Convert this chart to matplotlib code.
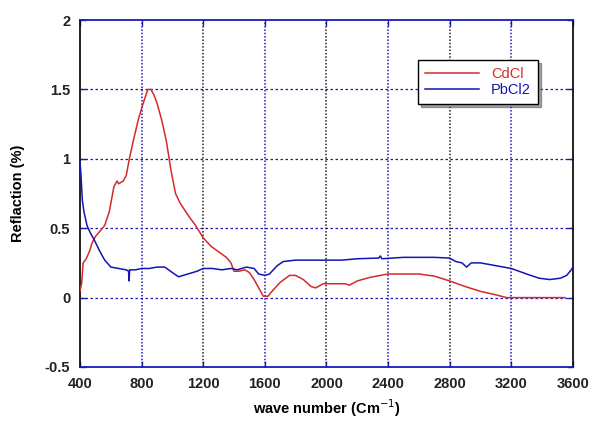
import numpy as np
import matplotlib.pyplot as plt

plt.rcParams['font.family'] = ['Liberation Sans', 'DejaVu Sans']

# CdCl spectrum
cd_x = [400, 410, 420, 440, 460, 480, 500, 530, 560, 590, 620, 640, 650, 680, 700,
        720, 750, 780, 810, 840, 860, 880, 900, 930, 960, 990, 1020, 1050, 1080,
        1110, 1150, 1200, 1250, 1300, 1350, 1380, 1400, 1430, 1470, 1500, 1530,
        1560, 1590, 1620, 1650, 1700, 1760, 1800, 1850, 1900, 1930, 1980, 2050,
        2120, 2150, 2200, 2280, 2350, 2400, 2600, 2700, 2800, 2900, 3000, 3100,
        3170, 3300, 3550]
cd_y = [0.05, 0.10, 0.25, 0.28, 0.33, 0.40, 0.44, 0.48, 0.52, 0.62, 0.80, 0.84, 0.82,
        0.84, 0.88, 1.00, 1.15, 1.29, 1.40, 1.50, 1.50, 1.46, 1.40, 1.28, 1.13, 0.92,
        0.75, 0.68, 0.63, 0.58, 0.52, 0.43, 0.37, 0.33, 0.29, 0.25, 0.19, 0.19, 0.20,
        0.18, 0.13, 0.07, 0.01, 0.01, 0.05, 0.11, 0.16, 0.16, 0.13, 0.08, 0.07, 0.10,
        0.10, 0.10, 0.09, 0.12, 0.145, 0.16, 0.17, 0.17, 0.155, 0.12, 0.08, 0.045,
        0.02, 0.0, 0.0, 0.0]

# PbCl2 spectrum
pb_x = [400, 405, 415, 425, 445, 465, 490, 530, 560, 600, 650, 700, 715, 718, 722,
        760, 800, 850, 900, 950, 1000, 1040, 1100, 1160, 1200, 1260, 1320, 1380,
        1420, 1480, 1530, 1560, 1600, 1630, 1680, 1720, 1800, 1900, 2000, 2100,
        2200, 2340, 2350, 2360, 2500, 2700, 2800, 2840, 2880, 2910, 2940, 3000,
        3100, 3200, 3300, 3380, 3450, 3520, 3560, 3590, 3600]
pb_y = [0.97, 0.90, 0.70, 0.62, 0.52, 0.47, 0.42, 0.33, 0.27, 0.22, 0.21, 0.20, 0.19,
        0.12, 0.20, 0.20, 0.21, 0.21, 0.22, 0.22, 0.18, 0.15, 0.17, 0.19, 0.21, 0.21,
        0.20, 0.21, 0.20, 0.22, 0.21, 0.17, 0.16, 0.17, 0.23, 0.26, 0.27, 0.27, 0.27,
        0.27, 0.28, 0.285, 0.30, 0.28, 0.29, 0.29, 0.285, 0.26, 0.25, 0.22, 0.25,
        0.25, 0.23, 0.21, 0.17, 0.14, 0.13, 0.14, 0.16, 0.20, 0.22]

xticks = [400, 800, 1200, 1600, 2000, 2400, 2800, 3200, 3600]
yticks = [-0.5, 0, 0.5, 1, 1.5, 2]
ylabels = ['-0.5', '0', '0.5', '1', '1.5', '2']

fig = plt.figure(figsize=(5.93, 4.26), dpi=100)
ax = fig.add_axes([0.135, 0.1385, 0.831, 0.8145])

# grid: blue dashed rows, alternating blue/black dotted columns
for y in yticks[1:-1]:
    ax.axhline(y, color='#1a1ab8', ls=(0, (2, 2)), lw=0.9, zorder=1)
for i, x in enumerate(xticks[1:-1]):
    c = '#1a1ab8' if i % 2 == 0 else '#222222'
    ax.axvline(x, color=c, ls=(0, (1, 1.2)), lw=1.1, zorder=1)

ax.plot(cd_x, cd_y, color='#d42a2a', lw=1.1, label='CdCl', zorder=3)
ax.plot(pb_x, pb_y, color='#1414b4', lw=1.1, label='PbCl2', zorder=3)

ax.set_xlim(400, 3600)
ax.set_ylim(-0.5, 2)
ax.set_xticks(xticks)
ax.set_yticks(yticks)
ax.set_yticklabels(ylabels)
ax.tick_params(direction='in', length=4, width=1, top=True, right=True,
               labelsize=10.5, pad=7, colors='#1a1ab8', labelcolor='#222222')
for lab in ax.get_xticklabels() + ax.get_yticklabels():
    lab.set_fontweight('bold')

ax.spines['top'].set_color('#1a1ab8')
ax.spines['bottom'].set_color('#1a1ab8')
ax.spines['left'].set_color('#111111')
ax.spines['right'].set_color('#111111')
for s in ax.spines.values():
    s.set_linewidth(1.3)

ax.set_xlabel('wave number (Cm$^{-1}$)', fontsize=10.5, fontweight='bold', labelpad=5)
ax.set_ylabel('Reflaction (%)', fontsize=10.5, fontweight='bold', labelpad=14)

leg = ax.legend(loc='upper left', bbox_to_anchor=(0.686, 0.885), fontsize=10.5,
                frameon=True, fancybox=False, shadow=True, borderpad=0.5,
                handlelength=3.7, labelspacing=0.1, borderaxespad=0)
leg.get_frame().set_edgecolor('black')
leg.get_frame().set_linewidth(1.0)
for txt, c in zip(leg.get_texts(), ['#d42a2a', '#1414b4']):
    txt.set_color(c)

fig.savefig('out.png', dpi=100, facecolor='white')
